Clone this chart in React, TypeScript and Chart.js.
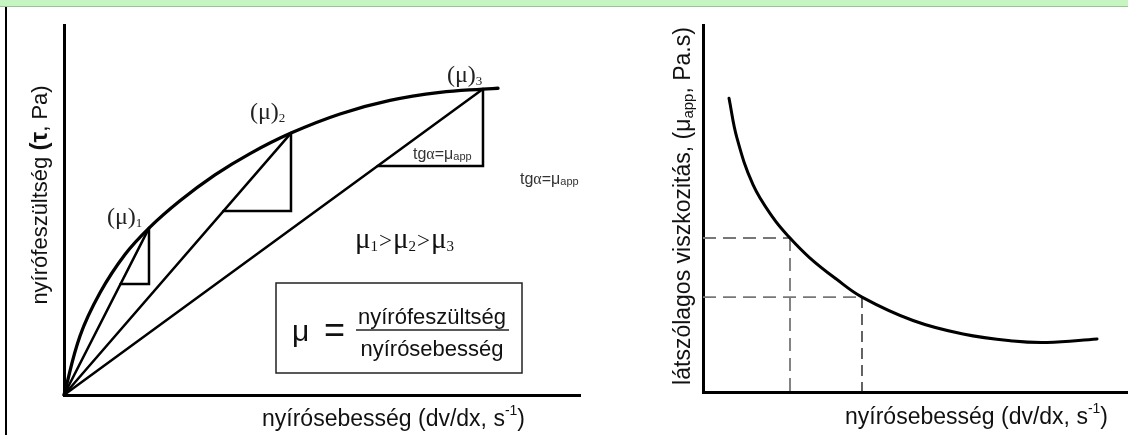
import React, { useEffect, useRef } from "react";
import { Chart, registerables } from "chart.js";
Chart.register(...registerables);

// ---------- Left chart: shear stress vs shear rate ----------
const curveX = [0, 3.1, 6.98, 11.82, 16.47, 22.48, 29.26, 36.05, 43.99, 53.49, 63.18, 72.87, 81.2, 84.11];
const curveY = [0, 15.96, 27.63, 37.97, 45.11, 52.48, 59.48, 65.25, 70.79, 75.95, 79.6, 81.77, 82.69, 82.9];
const muX = [16.47, 43.99, 81.2];
const muY = [45.11, 70.79, 82.69];
const triBaseY = [30.0, 49.7, 61.9];
const muIndex = ["1", "2", "3"];

// ---------- Right chart: apparent viscosity vs shear rate ----------
const viscX = [6.12, 8.0, 11.76, 16.47, 20.47, 25.18, 31.29, 37.41, 49.41, 61.18, 72.94, 80.94, 92.71];
const viscY = [80.05, 69.16, 56.51, 47.52, 41.96, 36.51, 30.84, 25.86, 19.48, 15.8, 13.9, 13.51, 14.47];
const markX = [20.47, 37.41];
const markY = [41.96, 25.86];

// ---------- Texts ----------
const STRESS = "nyírófeszültség";
const RATE = "nyírósebesség";
const RATE_TITLE = "nyírósebesség (dv/dx, s";
const VISC_TITLE = "látszólagos viszkozitás, (μ";

const SANS = '"Liberation Sans", Arial, sans-serif';
const SERIF = '"Liberation Serif", "Times New Roman", serif';

type Seg = { t: string; f: string; dy?: number; gap?: number };

function drawSegs(ctx: CanvasRenderingContext2D, segs: Seg[], x: number, y: number, align = "left", color = "#111") {
  ctx.save();
  ctx.fillStyle = color;
  ctx.textAlign = "left";
  ctx.textBaseline = "alphabetic";
  let total = 0;
  const widths: number[] = [];
  for (const s of segs) {
    ctx.font = s.f;
    const w = ctx.measureText(s.t).width + (s.gap || 0);
    widths.push(w);
    total += w;
  }
  let cx = align === "left" ? x : align === "center" ? x - total / 2 : x - total;
  segs.forEach((s, i) => {
    ctx.font = s.f;
    ctx.fillText(s.t, cx, y + (s.dy || 0));
    cx += widths[i];
  });
  ctx.restore();
  return total;
}

function rateTitle(): Seg[] {
  return [
    { t: RATE_TITLE, f: `23px ${SANS}` },
    { t: "-1", f: `14px ${SANS}`, dy: -11 },
    { t: ")", f: `23px ${SANS}` },
  ];
}

function tgLabel(): Seg[] {
  return [
    { t: "tg", f: `16px ${SANS}` },
    { t: "α", f: `16px ${SERIF}` },
    { t: "=", f: `16px ${SANS}` },
    { t: "μ", f: `16px ${SANS}` },
    { t: "app", f: `11px ${SANS}`, dy: 1 },
  ];
}

const muLabelOffset = [
  { dx: -42, dy: -4 },
  { dx: -41, dy: -14 },
  { dx: -36, dy: -7 },
];

const leftText = {
  id: "leftText",
  afterDraw(chart: any) {
    const ctx: CanvasRenderingContext2D = chart.ctx;
    const xs = chart.scales.x;
    const ys = chart.scales.y;
    muX.forEach((mx, i) => {
      const px = xs.getPixelForValue(mx);
      const py = ys.getPixelForValue(muY[i]);
      drawSegs(ctx, [
        { t: "(μ)", f: `24px ${SERIF}` },
        { t: muIndex[i], f: `13px ${SERIF}`, dy: 3 },
      ], px + muLabelOffset[i].dx, py + muLabelOffset[i].dy, "left", "#222");
    });
    drawSegs(ctx, tgLabel(), 413, 159, "left", "#333");
    drawSegs(ctx, tgLabel(), 520, 184, "left", "#333");
    drawSegs(ctx, [
      { t: "μ", f: `29px ${SERIF}` },
      { t: "1", f: `15px ${SERIF}`, dy: 3, gap: 1 },
      { t: ">", f: `23px ${SERIF}`, gap: 1 },
      { t: "μ", f: `29px ${SERIF}` },
      { t: "2", f: `15px ${SERIF}`, dy: 3, gap: 1 },
      { t: ">", f: `23px ${SERIF}`, gap: 1 },
      { t: "μ", f: `29px ${SERIF}` },
      { t: "3", f: `15px ${SERIF}`, dy: 3 },
    ], 355, 248, "left", "#111");
    ctx.save();
    ctx.strokeStyle = "#222";
    ctx.lineWidth = 1.5;
    ctx.strokeRect(276, 283, 246, 90);
    ctx.beginPath();
    ctx.moveTo(356, 330);
    ctx.lineTo(509, 330);
    ctx.stroke();
    ctx.restore();
    drawSegs(ctx, [{ t: "μ", f: `30px ${SANS}` }], 292, 341, "left", "#111");
    drawSegs(ctx, [{ t: "=", f: `36px ${SANS}` }], 324, 342, "left", "#111");
    drawSegs(ctx, [{ t: STRESS, f: `22px ${SANS}` }], 432, 324, "center", "#111");
    drawSegs(ctx, [{ t: RATE, f: `22px ${SANS}` }], 432, 356, "center", "#111");
    drawSegs(ctx, rateTitle(), 262, 426, "left", "#111");
    ctx.save();
    ctx.translate(47, 195);
    ctx.rotate(-Math.PI / 2);
    drawSegs(ctx, [
      { t: STRESS + " ", f: `22px ${SANS}` },
      { t: "(τ", f: `bold 24px ${SANS}` },
      { t: ", Pa)", f: `22px ${SANS}` },
    ], 0, 0, "center", "#111");
    ctx.restore();
  },
};

const rightText = {
  id: "rightText",
  afterDraw(chart: any) {
    const ctx: CanvasRenderingContext2D = chart.ctx;
    drawSegs(ctx, rateTitle(), 205, 424, "left", "#111");
    ctx.save();
    ctx.translate(50, 206);
    ctx.rotate(-Math.PI / 2);
    drawSegs(ctx, [
      { t: VISC_TITLE, f: `23px ${SANS}` },
      { t: "app", f: `15px ${SANS}`, dy: 3 },
      { t: ", Pa.s)", f: `23px ${SANS}` },
    ], 0, 0, "center", "#111");
    ctx.restore();
  },
};

function axisScale(dir: "x" | "y") {
  return {
    type: "linear" as const,
    min: 0,
    max: 100,
    ticks: { display: false },
    grid: { display: false },
    border: { display: true, width: 3, color: "#000" },
    afterFit: (s: any) => {
      if (dir === "x") s.height = 0;
      else s.width = 0;
    },
  };
}

const pts = (xs: number[], ys: number[]) => xs.map((x, i) => ({ x, y: ys[i] }));

function lineDs(data: any[], extra: any = {}) {
  return {
    data,
    borderColor: "#000",
    borderWidth: 2.5,
    pointRadius: 0,
    tension: 0,
    clip: false as const,
    borderCapStyle: "round" as const,
    borderJoinStyle: "miter" as const,
    ...extra,
  };
}

export default function App() {
  const leftRef = useRef<HTMLCanvasElement>(null);
  const rightRef = useRef<HTMLCanvasElement>(null);

  useEffect(() => {
    const ox = curveX[0];
    const oy = curveY[0];
    const leftDatasets: any[] = [
      lineDs(pts(curveX, curveY), { borderWidth: 3.3, tension: 0.4 }),
    ];
    muX.forEach((mx, i) => {
      leftDatasets.push(lineDs([{ x: ox, y: oy }, { x: mx, y: muY[i] }]));
      const footX = ox + ((mx - ox) * (triBaseY[i] - oy)) / (muY[i] - oy);
      leftDatasets.push(
        lineDs([
          { x: footX, y: triBaseY[i] },
          { x: mx, y: triBaseY[i] },
          { x: mx, y: muY[i] },
        ])
      );
    });

    const left = new Chart(leftRef.current!, {
      type: "line",
      data: { datasets: leftDatasets },
      options: {
        responsive: false,
        animation: false,
        devicePixelRatio: 1,
        layout: { padding: { left: 64, top: 25, right: 60, bottom: 40 } },
        scales: { x: axisScale("x") as any, y: axisScale("y") as any },
        plugins: { legend: { display: false }, tooltip: { enabled: false } },
      },
      plugins: [leftText],
    });

    const dashGrey = { borderColor: "#777", borderWidth: 1.8, borderDash: [13, 7], borderCapStyle: "butt" };
    const rightDatasets: any[] = [
      lineDs(pts(viscX, viscY), { borderWidth: 3, tension: 0.4 }),
      lineDs([{ x: 0, y: markY[0] }, { x: markX[0], y: markY[0] }], dashGrey),
      lineDs([{ x: markX[0], y: markY[0] }, { x: markX[0], y: 0 }], dashGrey),
      lineDs([{ x: 0, y: markY[1] }, { x: markX[1], y: markY[1] }], dashGrey),
      lineDs([{ x: markX[1], y: markY[1] }, { x: markX[1], y: 0 }], { borderColor: "#111", borderWidth: 1.3, borderDash: [11, 6], borderCapStyle: "butt" }),
    ];

    const right = new Chart(rightRef.current!, {
      type: "line",
      data: { datasets: rightDatasets },
      options: {
        responsive: false,
        animation: false,
        devicePixelRatio: 1,
        layout: { padding: { left: 63, top: 25, right: 0, bottom: 43 } },
        scales: { x: axisScale("x") as any, y: axisScale("y") as any },
        plugins: { legend: { display: false }, tooltip: { enabled: false } },
      },
      plugins: [rightText],
    });

    return () => {
      left.destroy();
      right.destroy();
    };
  }, []);

  return (
    <div style={{ position: "fixed", left: 0, top: 0, width: 1128, height: 435, background: "#fff", overflow: "hidden" }}>
      <div style={{ position: "absolute", left: 0, top: 0, width: 1128, height: 6, background: "#c6f5c1", borderBottom: "1px solid #93c98f" }} />
      <div style={{ position: "absolute", left: 5, top: 7, width: 2, height: 428, background: "#000" }} />
      <canvas ref={leftRef} width={640} height={435} style={{ position: "absolute", left: 0, top: 0 }} />
      <canvas ref={rightRef} width={488} height={435} style={{ position: "absolute", left: 640, top: 0 }} />
    </div>
  );
}
